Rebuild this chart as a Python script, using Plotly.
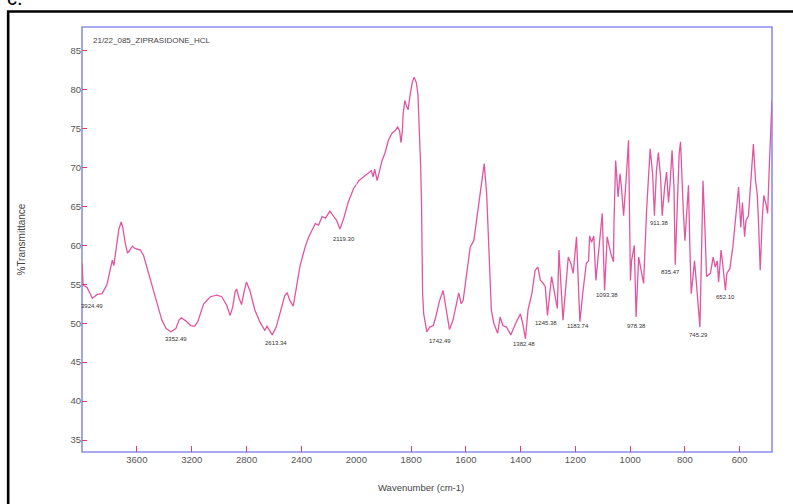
import plotly.graph_objects as go

# ---- spectrum: 4000-2000 cm-1 (compressed half of the axis) ----
wn_high = [4000, 3992, 3963, 3924.49, 3889, 3854, 3819, 3796, 3779, 3768,
           3749, 3731, 3714, 3703, 3684, 3668, 3651, 3633, 3614, 3574,
           3551, 3516, 3481, 3446, 3418, 3387, 3352.49, 3316, 3293, 3276,
           3244, 3208, 3180, 3156, 3136, 3113, 3064, 3017, 2981, 2945,
           2920, 2901, 2884, 2873, 2855, 2837, 2819, 2801, 2776, 2740,
           2704, 2668, 2651, 2613.34, 2584, 2547, 2521, 2504, 2484, 2460,
           2436, 2410, 2373, 2349, 2324, 2299, 2275, 2250, 2225, 2193,
           2169, 2144, 2119.30, 2093, 2060, 2020, 2000]
t_high = [57.7, 54.9, 54.6, 53.2, 53.7, 53.8, 54.9, 56.6, 58.1, 57.4,
          59.8, 62.1, 63.0, 62.3, 60.2, 59.0, 59.4, 59.9, 59.6, 59.4,
          58.7, 56.6, 54.4, 52.1, 50.4, 49.3, 48.9, 49.3, 50.4, 50.7,
          50.3, 49.7, 49.6, 50.2, 51.4, 52.5, 53.4, 53.6, 53.4, 52.3,
          51.0, 52.1, 54.0, 54.4, 53.2, 52.4, 54.0, 55.3, 54.2, 51.7,
          50.2, 49.1, 49.6, 48.5, 49.5, 51.9, 53.6, 53.9, 52.9, 52.2,
          54.7, 57.4, 59.8, 61.0, 61.9, 62.8, 62.6, 63.7, 63.5, 64.4,
          63.8, 63.2, 62.1, 63.4, 65.5, 67.3, 67.8]

# ---- spectrum: 2000-482 cm-1 (expanded half of the axis) ----
wn_low = [2000, 1991, 1973, 1955, 1945, 1939, 1933, 1924, 1916, 1906,
          1895, 1883, 1870, 1859, 1849, 1842, 1837, 1832, 1829, 1823,
          1817, 1811, 1805, 1796, 1789, 1781, 1775, 1771, 1769, 1767,
          1765, 1762, 1760, 1758, 1754, 1748, 1742.49, 1732, 1719, 1710,
          1696, 1683, 1674, 1660, 1647, 1636, 1626, 1617, 1610, 1597,
          1584, 1571, 1557, 1544, 1533, 1524, 1515, 1507, 1498, 1484,
          1475, 1465, 1451, 1436, 1418, 1401, 1392, 1382.48, 1373, 1359,
          1347, 1337, 1328, 1319, 1310, 1302, 1287, 1275, 1266, 1260,
          1254, 1245.38, 1235, 1226, 1216, 1208, 1196, 1190, 1183.74, 1172,
          1160, 1152, 1148, 1141, 1133, 1125, 1113, 1102, 1093.38, 1084,
          1071, 1061, 1059, 1053, 1044, 1037, 1032, 1024, 1015, 1006,
          999, 995, 985, 978.38, 969, 962, 951, 940, 927, 918,
          911.38, 904, 897, 889, 883, 874, 867, 860, 854, 847,
          840, 835.47, 829, 821, 816, 811, 806, 800, 794, 787,
          782, 777, 772, 765, 757, 750, 745.29, 740, 734, 727,
          721, 707, 697, 689, 682, 677, 668, 662, 652.10, 647,
          636, 625, 614, 604, 596, 590, 582, 577, 568, 561,
          550, 542, 536, 532, 525, 518, 512, 504, 498, 491,
          482]
t_low = [67.8, 68.3, 68.8, 69.3, 69.6, 68.8, 69.8, 68.3, 69.6, 70.9,
         71.9, 73.5, 74.4, 74.7, 75.2, 74.7, 73.2, 74.7, 76.9, 78.6,
         77.9, 77.4, 79.0, 80.9, 81.6, 80.9, 79.4, 76.4, 73.9, 71.5,
         70.0, 65.5, 60.5, 53.8, 51.2, 50.0, 48.9, 49.5, 49.7, 50.8,
         52.9, 54.2, 52.1, 49.2, 50.4, 52.3, 53.9, 52.5, 52.9, 56.4,
         59.8, 60.6, 64.5, 67.9, 70.5, 66.6, 59.8, 51.7, 50.0, 48.7,
         50.8, 49.7, 49.5, 48.5, 50.0, 51.2, 49.9, 48.0, 51.7, 53.8,
         56.8, 57.2, 55.5, 55.2, 54.7, 51.0, 56.0, 53.8, 51.9, 59.4,
         56.0, 50.4, 54.7, 58.5, 57.6, 56.4, 61.1, 54.7, 50.2, 54.2,
         57.7, 58.0, 61.2, 60.4, 61.2, 55.5, 60.6, 64.1, 54.2, 61.1,
         59.0, 57.9, 63.0, 70.9, 66.2, 69.2, 67.5, 63.8, 68.3, 73.5,
         55.5, 58.0, 60.0, 50.8, 58.5, 57.2, 55.1, 64.5, 72.4, 69.2,
         63.8, 69.6, 71.9, 68.8, 63.8, 67.5, 69.4, 65.5, 68.0, 72.2,
         67.5, 57.5, 64.5, 71.8, 73.3, 67.5, 64.5, 60.6, 64.1, 67.7,
         59.8, 53.8, 55.5, 58.0, 54.7, 51.2, 49.5, 58.0, 68.3, 62.3,
         56.0, 56.4, 58.5, 57.2, 58.0, 55.3, 59.4, 57.6, 54.2, 56.4,
         57.0, 59.8, 63.6, 67.5, 62.3, 65.5, 61.1, 63.2, 63.8, 67.5,
         73.0, 68.3, 66.6, 63.6, 56.8, 63.2, 66.4, 65.3, 64.1, 70.9,
         78.6]

# picked absorption minima (cm-1)
peak_wn = [3924.49, 3352.49, 2613.34, 2119.30, 1742.49, 1382.48, 1245.38,
           1183.74, 1093.38, 978.38, 911.38, 835.47, 745.29, 652.10]

ticks_high = [3600, 3200, 2800, 2400, 2000]
ticks_low = [1800, 1600, 1400, 1200, 1000, 800, 600]
ticks_t = [35, 40, 45, 50, 55, 60, 65, 70, 75, 80, 85]

assert len(wn_high) == len(t_high) and len(wn_low) == len(t_low)

# pixel nudges (right, down) for the peak labels so they sit under each dip
label_nudge = [(0, 7.7), (5, 7.5), (4, 8.4), (4, 10.3), (13, 9.2), (-1, 5.2),
               (-17, 3.2), (-2, 4), (2, 4.5), (0, 8.7), (5, 6.9), (-5, 7.5),
               (-1, 7.9), (0, 6.2)]

FONT = "Liberation Sans, Arial, sans-serif"
LINE = "#e2559f"
FRAME = "#8d8df0"
TICK = "#e0405f"
SPLIT = 0.3976  # share of the axis given to 4000-2000 cm-1

fig = go.Figure()
fig.add_trace(go.Scatter(x=wn_high, y=t_high, xaxis="x", yaxis="y", mode="lines",
                         line=dict(color=LINE, width=1.3), hoverinfo="skip",
                         showlegend=False))
fig.add_trace(go.Scatter(x=wn_low, y=t_low, xaxis="x2", yaxis="y2", mode="lines",
                         line=dict(color=LINE, width=1.3), hoverinfo="skip",
                         showlegend=False))

value_at = dict(zip(wn_high + wn_low, t_high + t_low))
for w, (dx, dy) in zip(peak_wn, label_nudge):
    high = w > 2000
    fig.add_annotation(x=w, y=value_at[w], xref="x" if high else "x2",
                       yref="y" if high else "y2", text=f"{w:.2f}",
                       showarrow=False, xshift=dx, yshift=-dy, yanchor="middle",
                       font=dict(family=FONT, size=6, color="#333"))

tick_style = dict(showgrid=False, zeroline=False, showline=False,
                  ticks="inside", tickcolor=TICK, tickwidth=1.3,
                  tickfont=dict(family=FONT, size=9.5, color="#555"))

fig.update_layout(
    width=793, height=504,
    margin=dict(l=82, r=10, t=27, b=52, pad=0),
    paper_bgcolor="white", plot_bgcolor="white",
    xaxis=dict(domain=[0, SPLIT], range=[4000, 2000], tickvals=ticks_high,
               anchor="y", ticklen=6, **tick_style),
    xaxis2=dict(domain=[SPLIT, 1], range=[2000, 482], tickvals=ticks_low,
                anchor="y2", ticklen=6, **tick_style),
    yaxis=dict(domain=[0, 1], range=[33.46, 88.04], tickvals=ticks_t,
               anchor="x", ticklen=5, **tick_style),
    yaxis2=dict(domain=[0, 1], matches="y", anchor="x2", showticklabels=False,
                ticks="", showgrid=False, zeroline=False, showline=False),
    shapes=[
        dict(type="rect", xref="paper", yref="paper", x0=0, x1=1, y0=0, y1=1,
             line=dict(color=FRAME, width=1.6), layer="below"),
        dict(type="rect", xref="paper", yref="paper", x0=-0.107, x1=1.5,
             y0=-0.5, y1=1.0365, line=dict(color="black", width=2.6)),
    ],
)

fig.add_annotation(text="21/22_085_ZIPRASIDONE_HCL", xref="paper", yref="paper",
                   x=0.0124, y=0.9694, xanchor="left", yanchor="middle",
                   showarrow=False, font=dict(family=FONT, size=8, color="#444"))
fig.add_annotation(text="%Transmittance", xref="paper", yref="paper",
                   x=-0.0884, y=0.5, textangle=-90, showarrow=False,
                   xanchor="center", yanchor="middle",
                   font=dict(family=FONT, size=10, color="#444"))
fig.add_annotation(text="Wavenumber (cm-1)", xref="paper", yref="paper",
                   x=0.4907, y=-0.0824, showarrow=False, yanchor="middle",
                   font=dict(family=FONT, size=9.5, color="#444"))
fig.add_annotation(text="c.", xref="paper", yref="paper", x=-0.112, y=1.0376,
                   xanchor="left", yanchor="bottom", showarrow=False,
                   font=dict(family=FONT, size=20, color="black"))

fig.write_html("out.html")
